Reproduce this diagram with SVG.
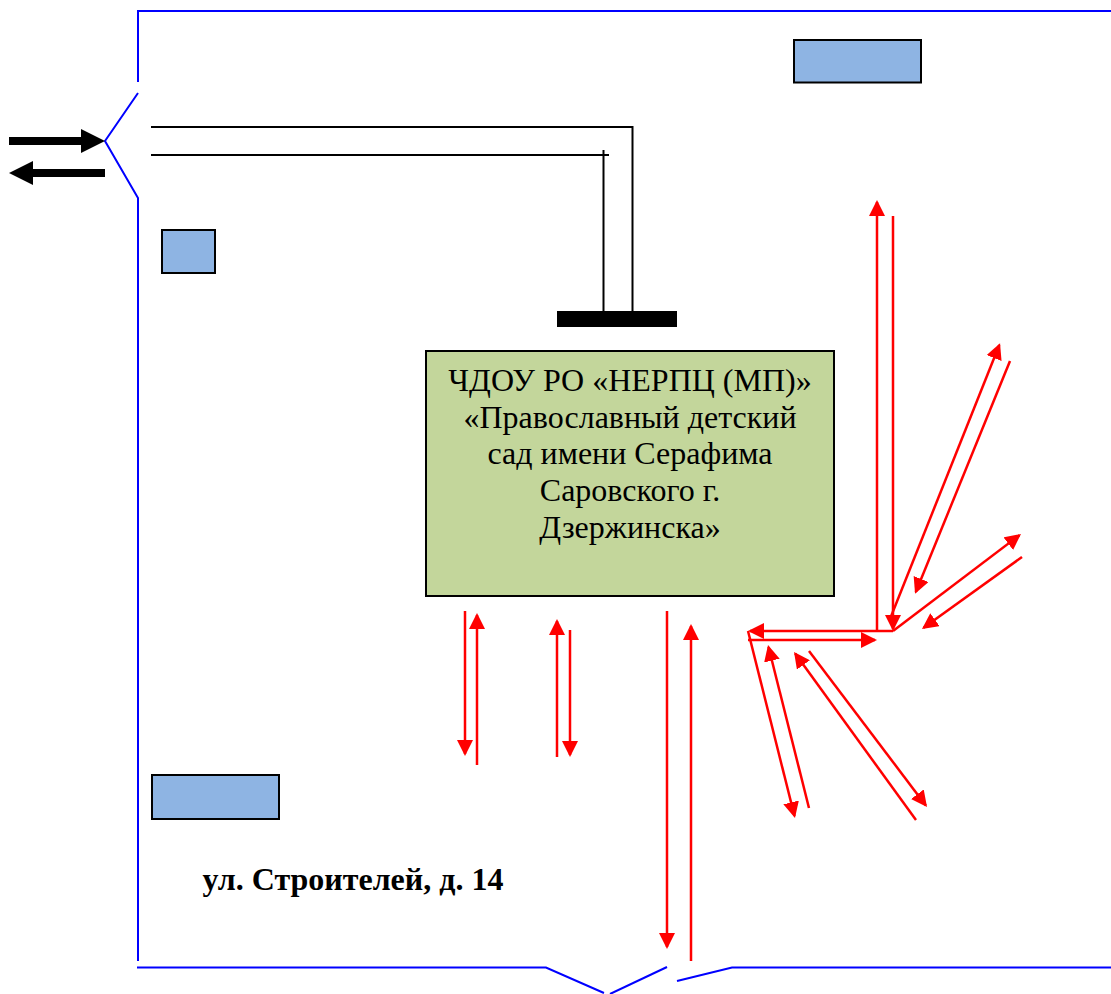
<svg xmlns="http://www.w3.org/2000/svg" width="1111" height="994" viewBox="0 0 1111 994">
<style>
.b{fill:none;stroke:#0000ff;stroke-width:2}
.k{fill:none;stroke:#000;stroke-width:2}
.r{fill:none;stroke:#ff0000;stroke-width:2.500;marker-end:url(#ra)}
.bk{fill:none;stroke:#000;stroke-width:8;marker-end:url(#ka)}
.box{fill:#8eb4e3;stroke:#000;stroke-width:2}
text{font-family:"Liberation Serif","Times New Roman",serif;fill:#000;text-anchor:middle}
</style>
<defs>
<marker id="ra" markerUnits="userSpaceOnUse" markerWidth="16" markerHeight="16" refX="14" refY="8" orient="auto" viewBox="0 0 16 16"><path d="M0 0L16 8L0 16Z" fill="#ff0000"/></marker>
<marker id="ka" markerUnits="userSpaceOnUse" markerWidth="24" markerHeight="24" refX="12" refY="12" orient="auto" viewBox="0 0 24 24"><path d="M0 0L24 12L0 24Z" fill="#000"/></marker>
</defs>
<g id="fence">
<path class="b" d="M1111 11H138V82"/>
<path class="b" d="M138 93L105 141L138 198V961"/>
<path class="b" d="M137 967.500H546L604 993"/>
<path class="b" d="M610 994L667 967"/>
<path class="b" d="M677 981L732 967.500H1111"/>
</g>
<g id="building">
<rect x="426" y="351" width="408" height="245" fill="#c3d69b" stroke="#000" stroke-width="2"/>
<text x="630" y="391" font-size="32">ЧДОУ РО «НЕРПЦ (МП)»</text>
<text x="630" y="428" font-size="32">«Православный детский</text>
<text x="630" y="464" font-size="32">сад имени Серафима</text>
<text x="630" y="501" font-size="32">Саровского г.</text>
<text x="630" y="538" font-size="32">Дзержинска»</text>
</g>
<g id="box-top"><rect class="box" x="794" y="40" width="127" height="42.500"/></g>
<g id="box-left"><rect class="box" x="162" y="230" width="53" height="43"/></g>
<g id="box-bottom"><rect class="box" x="152" y="775" width="127" height="44"/></g>
<g id="entrance"><rect x="557" y="311" width="120" height="16" fill="#000"/></g>
<g id="address"><text x="353" y="890" font-size="32" font-weight="bold">ул. Строителей, д. 14</text></g>
<g id="connectors">
<path class="k" d="M151 127H632.500V311"/>
<path class="k" d="M151 155H609"/>
<path class="k" d="M603.500 150V311"/>
<path class="bk" d="M9 141H93"/>
<path class="bk" d="M105 173H21"/>
<path class="r" d="M465 611V754"/>
<path class="r" d="M477 765V615"/>
<path class="r" d="M557 757V621"/>
<path class="r" d="M570 630V755"/>
<path class="r" d="M667 611V947"/>
<path class="r" d="M691 961V626"/>
<path class="r" d="M877 632V202"/>
<path class="r" d="M893 216V629"/>
<path class="r" d="M890 619L999.300 345"/>
<path class="r" d="M1010 361L915.800 592"/>
<path class="r" d="M893 631L1019.400 535.200"/>
<path class="r" d="M1022 557L923.600 627.800"/>
<path class="r" d="M893 631H750"/>
<path class="r" d="M748 640H875"/>
<path class="r" d="M748 631L794.500 816"/>
<path class="r" d="M809 808L768.500 647"/>
<path class="r" d="M916 820L795.200 653.600"/>
<path class="r" d="M809 651L925.800 805.400"/>
</g>
</svg>
